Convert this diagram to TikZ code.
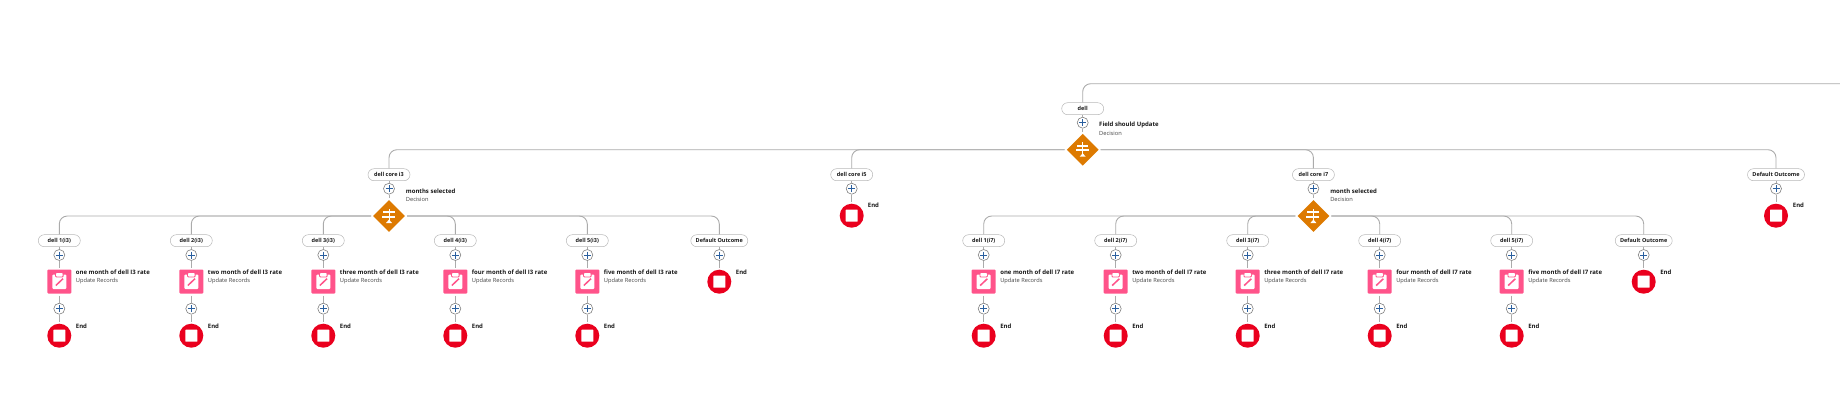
\documentclass[tikz,border=0pt]{standalone}
\usepackage{fontspec}
\setmainfont{Open Sans}
\usetikzlibrary{shapes.geometric,calc,positioning}
\definecolor{linegray}{HTML}{ABABAB}
\definecolor{decorange}{HTML}{DD7A01}
\definecolor{updpink}{HTML}{FF538A}
\definecolor{endred}{HTML}{EA001E}
\definecolor{plusblue}{HTML}{2A5F9E}
\definecolor{textdark}{HTML}{181818}
\definecolor{subgray}{HTML}{444444}
\tikzset{
    flowline/.style={draw=linegray, line width=0.9pt, rounded corners=8pt},
    pathlabel/.style={draw=black!28, fill=white, rounded corners=6pt, minimum height=12pt, minimum width=42pt, inner sep=0pt, line width=0.5pt, text=textdark, font=\fontsize{5.5}{6}\selectfont\bfseries},
    plusnode/.style={circle, draw=gray, fill=white, minimum size=11pt, inner sep=0pt, line width=0.6pt, path picture={
        \draw[plusblue, line width=0.9pt] ($(path picture bounding box.center)+(-3.5,0)$) -- ++(7,0);
        \draw[plusblue, line width=0.9pt] ($(path picture bounding box.center)+(0,-3.5)$) -- ++(0,7);
    }},
    decisionnode/.style={diamond, aspect=1, fill=decorange, minimum size=33pt, inner sep=0pt, outer sep=1.5pt, path picture={
        \coordinate (c) at (path picture bounding box.center);
        \fill[white] ($(c)+(-0.5,-7.5)$) rectangle ($(c)+(0.5,4.5)$);
        \fill[white] ($(c)+(-6,-5)$) rectangle ($(c)+(5.5,-3)$);
        \fill[white] ($(c)+(-7,-0.5)$) rectangle ($(c)+(6,1.5)$);
        \fill[white] ($(c)+(-3,7)$) -- ($(c)+(0,3.5)$) -- ($(c)+(3,7)$) -- cycle;
    }},
    updatenode/.style={rectangle, fill=updpink, rounded corners=1pt, minimum size=24pt, inner sep=0pt, outer sep=2pt, path picture={
        \coordinate (c) at (path picture bounding box.center);
        \fill[white, rounded corners=1pt] ($(c)+(-7,-7)$) rectangle ($(c)+(7,7.5)$);
        \fill[updpink] ($(c)+(-4.2,-9)$) rectangle ($(c)+(4.2,-4.2)$);
        \fill[white, rounded corners=0.8pt] ($(c)+(-3.3,-8.5)$) rectangle ($(c)+(3.3,-5)$);
        \draw[updpink, line width=1.5pt] ($(c)+(-3.5,4)$) -- ($(c)+(3.7,-2.8)$);
    }},
    endnode/.style={circle, fill=endred, minimum size=24pt, inner sep=0pt, outer sep=2pt, path picture={
        \fill[white, rounded corners=0.5pt] ($(path picture bounding box.center)+(-6,-6)$) rectangle ++(12,12);
    }},
    titletext/.style={anchor=west, inner sep=0pt, text=textdark, font=\fontsize{6}{7}\selectfont\bfseries},
    subtext/.style={anchor=west, inner sep=0pt, text=subgray, font=\fontsize{5.7}{7}\selectfont},
}
\begin{document}
\begin{tikzpicture}[x=1pt, y=-1pt]
    \useasboundingbox (0,0) rectangle (1840,416);

    % root
    \coordinate (offpage) at (1840,83.7);
    \node[pathlabel] (dell) at (1082.7,108.7) {dell};
    \node[plusnode] (dellplus) at (1082.7,122.7) {};
    \node[decisionnode] (field) at (1082.7,149.7) {};
    \node[titletext] (fieldname) at (1099,125.3) {Field should Update};
    \node[subtext] (fieldsub) at (1099,133.3) {Decision};
    \draw[flowline] (dell.north) |- (offpage);
    \draw[flowline] (dell) -- (dellplus) -- (field);

    % second level
    \foreach \core/\x/\side/\txt in {i3/389/west/months selected, i7/1313.4/east/month selected}{
        \node[pathlabel] (core\core) at (\x,174.7) {dell core \core};
        \node[plusnode] (plus\core) at (\x,188.7) {};
        \node[decisionnode] (dec\core) at (\x,216) {};
        \node[titletext] (name\core) at (\x+16.7,191.7) {\txt};
        \node[subtext] (sub\core) at (\x+16.7,199.7) {Decision};
        \draw[flowline] (field.\side) -| (core\core.north);
        \draw[flowline] (core\core) -- (plus\core) -- (dec\core);
    }
    \node[pathlabel] (corei5) at (851.7,174.7) {dell core i5};
    \node[plusnode] (plusi5) at (851.7,188.7) {};
    \node[endnode] (endi5) at (851.7,215.7) {};
    \node[titletext] (endtxti5) at (867.7,205.7) {End};
    \draw[flowline] (field.west) -| (corei5.north);
    \draw[flowline] (corei5) -- (plusi5) -- (endi5);

    \node[pathlabel, minimum width=57pt] (defroot) at (1776,174.7) {Default Outcome};
    \node[plusnode] (plusdefroot) at (1776,188.7) {};
    \node[endnode] (enddefroot) at (1776,215.7) {};
    \node[titletext] (endtxtdefroot) at (1792.7,205.7) {End};
    \draw[flowline] (field.east) -| (defroot.north);
    \draw[flowline] (defroot) -- (plusdefroot) -- (enddefroot);

    % month branches
    \foreach \core/\chip/\off in {i3/I3/0, i7/I7/924.4}{
        \foreach \n/\bx/\side/\word in {1/59.3/west/one, 2/191.3/west/two, 3/323.3/west/three, 4/455.3/east/four, 5/587.3/east/five}{
            \node[pathlabel] (p\core\n) at (\bx+\off,240.7) {dell \n(\core)};
            \node[plusnode] (a\core\n) at (\bx+\off,255) {};
            \node[updatenode] (u\core\n) at (\bx+\off,281.5) {};
            \node[plusnode] (b\core\n) at (\bx+\off,308.7) {};
            \node[endnode] (e\core\n) at (\bx+\off,335.7) {};
            \node[titletext] (t\core\n) at (\bx+\off+16.4,272.7) {\word{} month of dell \chip{} rate};
            \node[subtext] (s\core\n) at (\bx+\off+16.4,280.7) {Update Records};
            \node[titletext] (x\core\n) at (\bx+\off+16.4,326.7) {End};
            \draw[flowline] (dec\core.\side) -| (p\core\n.north);
            \draw[flowline] (p\core\n) -- (a\core\n) -- (u\core\n) -- (b\core\n) -- (e\core\n);
        }
        \node[pathlabel, minimum width=57pt] (d\core) at (719.3+\off,240.7) {Default Outcome};
        \node[plusnode] (c\core) at (719.3+\off,255) {};
        \node[endnode] (f\core) at (719.3+\off,281.7) {};
        \node[titletext] (y\core) at (735.7+\off,272.7) {End};
        \draw[flowline] (dec\core.east) -| (d\core.north);
        \draw[flowline] (d\core) -- (c\core) -- (f\core);
    }
\end{tikzpicture}
\end{document}
